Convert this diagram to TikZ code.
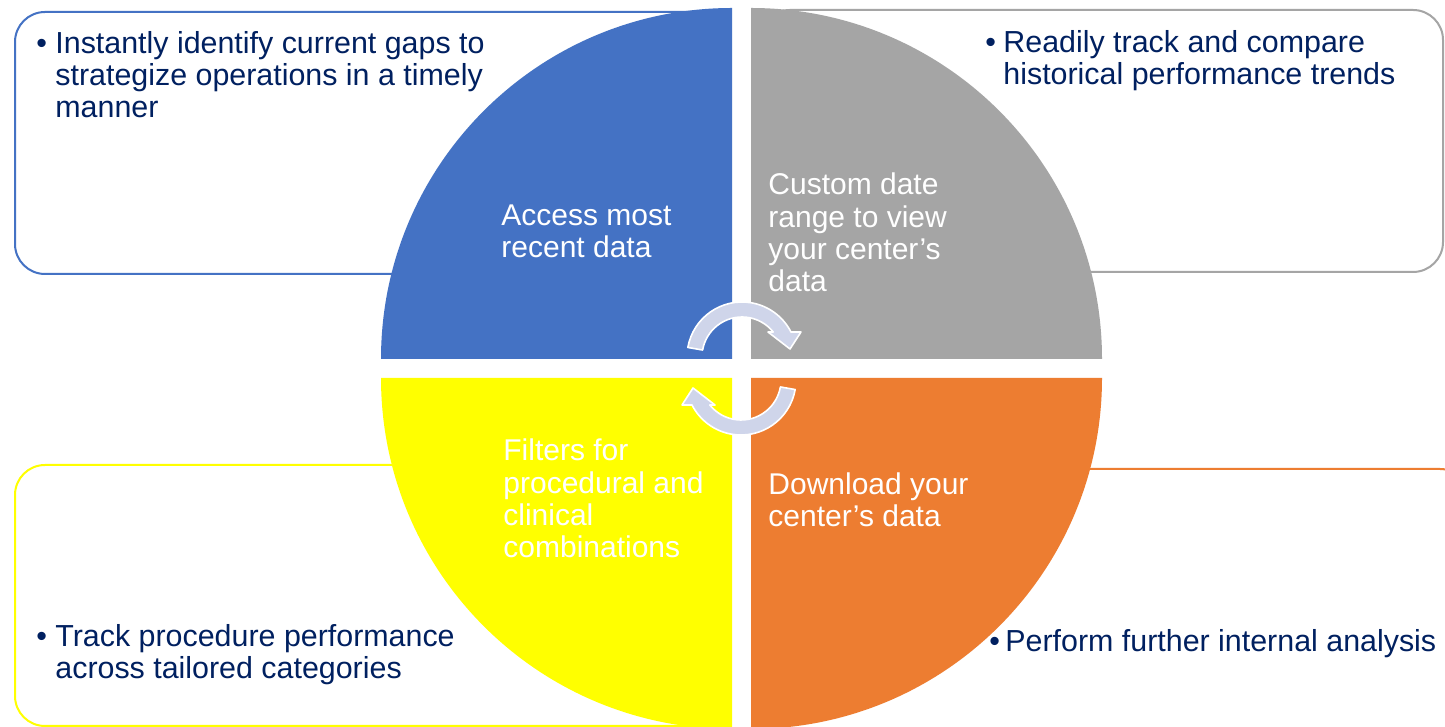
\documentclass[tikz,border=0pt]{standalone}
\usepackage{fontspec}
\setmainfont{Liberation Sans}
\usetikzlibrary{positioning}

\definecolor{bleu}{HTML}{4472C4}
\definecolor{gris}{HTML}{A5A5A5}
\definecolor{jaune}{HTML}{FFFF00}
\definecolor{orange}{HTML}{ED7D31}
\definecolor{marine}{HTML}{002060}
\definecolor{lavande}{HTML}{CFD5EA}

\tikzstyle{cadre}  =[line width=1pt, rounded corners=15pt, fill=white]
\tikzstyle{puce}   =[text=marine, font=\fontsize{15.2}{16}\selectfont, inner sep=0pt, anchor=base west]
\tikzstyle{texte}  =[puce, align=left]
\tikzstyle{interne}=[text=white, font=\fontsize{15}{16.2}\selectfont, inner sep=0pt, anchor=base west, align=left]
\tikzstyle{fleche} =[fill=lavande, draw=white, line width=0.8pt, line join=round]

\begin{document}
\begin{tikzpicture}[x=0.5pt,y=0.5pt]

\clip (0,0) rectangle (1445,727);
\fill[white] (0,0) rectangle (1445,727);

%%%%%%%%%%%%%%%%%%%%%%%%
%Les quatre cadres derrière le disque
%%%%%%%%%%%%%%%%%%%%%%%%
\draw[cadre, draw=bleu]   (15,453) rectangle (720,715);
\draw[cadre, draw=gris]   (760,455) rectangle (1443,717);
\draw[cadre, draw=jaune]  (15,1) rectangle (720,262);
\draw[cadre, draw=orange] (760,-25) rectangle (1470,258);

%%%%%%%%%%%%%%%%%%%%%%%%
%Le disque en quatre quarts séparés
%%%%%%%%%%%%%%%%%%%%%%%%
\def \rayon {351} %rayon des quarts de disque

\fill[bleu]   (732,368) -- ++(180:\rayon) arc[start angle=180, end angle=90, radius=\rayon] -- cycle;
\fill[gris]   (751,368) -- ++(90:\rayon) arc[start angle=90, end angle=0, radius=\rayon] -- cycle;
\fill[jaune]  (732,349) -- ++(270:\rayon) arc[start angle=270, end angle=180, radius=\rayon] -- cycle;
\fill[orange] (751,349) -- ++(0:\rayon) arc[start angle=0, end angle=-90, radius=\rayon] -- cycle;

%%%%%%%%%%%%%%%%%%%%%%%%
%Les deux flèches circulaires au centre
%%%%%%%%%%%%%%%%%%%%%%%%
\def \rext {55} %rayon extérieur de la flèche
\def \rint {40} %rayon intérieur de la flèche
\def \contour {(170:\rext) arc[start angle=170, end angle=27, radius=\rext]
  -- (59,25) -- (48,8) -- (26,25) -- (38.7:\rint)
  arc[start angle=38.7, end angle=170, radius=\rint] -- cycle}

\begin{scope}[shift={(742,370)}]
\draw[fleche] \contour;
\end{scope}
\begin{scope}[shift={(741,347)},rotate=180]
\draw[fleche] \contour;
\end{scope}

%%%%%%%%%%%%%%%%%%%%%%%%
%Textes dans les quarts (ancrés sur la dernière ligne)
%%%%%%%%%%%%%%%%%%%%%%%%
\node[interne] (acces) at (501,469) {Access most\\recent data};
\node[interne] (dates) at (768,435) {Custom date\\range to view\\your center’s\\data};
\node[interne] (filtres) at (503,169) {Filters for\\procedural and\\clinical\\combinations};
\node[interne] (export) at (768,200) {Download your\\center’s data};

%%%%%%%%%%%%%%%%%%%%%%%%
%Textes à puces dans les cadres
%%%%%%%%%%%%%%%%%%%%%%%%
\node[puce] (puceA) at (36,673) {\textbullet};
\node[texte] (ecarts) at (55,609) {Instantly identify current gaps to\\strategize operations in a timely\\manner};

\node[puce] (puceB) at (985,674) {\textbullet};
\node[texte] (tendances) at (1003,642) {Readily track and compare\\historical performance trends};

\node[puce] (puceC) at (36,80) {\textbullet};
\node[texte] (categories) at (55,48) {Track procedure performance\\across tailored categories};

\node[puce] (puceD) at (989,75) {\textbullet};
\node[texte] (analyse) at (1005,75) {Perform further internal analysis};

\end{tikzpicture}
\end{document}
